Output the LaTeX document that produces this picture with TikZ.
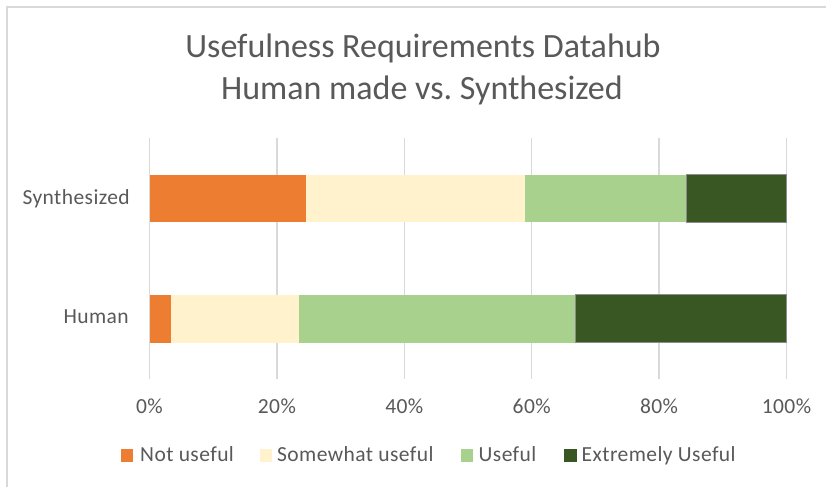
\documentclass[tikz,border=0pt]{standalone}
\usepackage{fontspec}
\setmainfont{Carlito}
\newfontfamily\labelfont[LetterSpace=2]{Carlito}
\frenchspacing
\definecolor{notuseful}{HTML}{ED7D31}
\definecolor{somewhat}{HTML}{FFF2CC}
\definecolor{useful}{HTML}{A9D18E}
\definecolor{extremely}{HTML}{385723}
\definecolor{txtgray}{HTML}{595959}
\definecolor{gridgray}{HTML}{D9D9D9}
\tikzset{
  titletext/.style={font=\fontsize{34}{40}\selectfont, text=txtgray, anchor=base, inner sep=0pt},
  labeltext/.style={font=\labelfont\fontsize{21.5}{24}\selectfont, text=txtgray, inner sep=0pt},
  gridline/.style={draw=gridgray, line width=1.5pt},
  darkseg/.style={draw=black!45, line width=0.7pt},
  legendkey/.style={minimum width=12.5pt, minimum height=13pt, inner sep=0pt, anchor=south west}
}
% one stacked bar: top, bottom, then the three cumulative break points in percent
\newcommand{\barrow}[5]{%
  \pgfmathsetmacro{\xa}{149.5+6.37*#3}
  \pgfmathsetmacro{\xb}{149.5+6.37*#4}
  \pgfmathsetmacro{\xc}{149.5+6.37*#5}
  \fill[notuseful] (149.5,#1) rectangle (\xa,#2);
  \fill[somewhat] (\xa,#1) rectangle (\xb,#2);
  \fill[useful] (\xb,#1) rectangle (\xc,#2);
  \filldraw[fill=extremely, darkseg] (\xc,#1) rectangle (786.5,#2);
}
\begin{document}
\begin{tikzpicture}[x=1pt, y=-1pt]
\useasboundingbox (0,0) rectangle (826,487);
\fill[white] (0,0) rectangle (826,487);
% chart frame
\draw[gridgray, line width=1.5pt] (7,487) -- (7,7) -- (826,7);

% title
\node[titletext] (title1) at (423,57) {Usefulness Requirements Datahub};
\node[titletext] (title2) at (422,99) {Human made vs. Synthesized};

% vertical gridlines and percentage axis
\foreach \k/\lab in {0/0\%,1/20\%,2/40\%,3/60\%,4/80\%,5/100\%} {
  \pgfmathsetmacro{\gx}{149.5+127.4*\k}
  \draw[gridline] (\gx,138) -- (\gx,379);
  \node[labeltext, anchor=base] (tick\k) at (\gx,413) {\lab};
}

% bars
\barrow{174.5}{222}{24.5}{59.0}{84.3}
\barrow{294.5}{342.5}{3.3}{23.4}{66.8}

% category labels
\node[labeltext, anchor=base east] (synth) at (130,204.5) {Synthesized};
\node[labeltext, anchor=base east] (human) at (129,323.5) {Human};

% legend
\node[legendkey, fill=notuseful] (k1) at (120.5,462.5) {};
\node[labeltext, anchor=base west] (l1) at (140,461) {Not useful};
\node[legendkey, fill=somewhat] (k2) at (259.5,462.5) {};
\node[labeltext, anchor=base west] (l2) at (277,461) {Somewhat useful};
\node[legendkey, fill=useful] (k3) at (460.5,462.5) {};
\node[labeltext, anchor=base west] (l3) at (478.5,461) {Useful};
\node[legendkey, fill=extremely] (k4) at (564,462.5) {};
\node[labeltext, anchor=base west] (l4) at (581.5,461) {Extremely Useful};
\end{tikzpicture}
\end{document}
